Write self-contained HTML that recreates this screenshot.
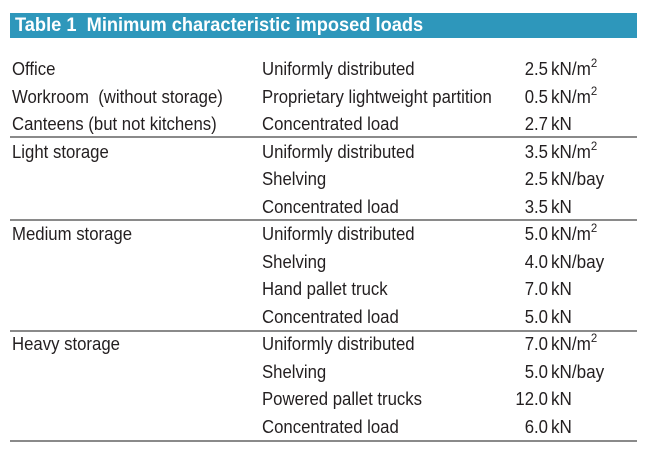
<!DOCTYPE html>
<html><head><meta charset="utf-8"><style>
body{margin:0;width:646px;height:451px;background:#fff;position:relative;overflow:hidden;font-family:"Liberation Sans",sans-serif;color:#231f20}
.hd{position:absolute;left:10px;top:13px;width:627px;height:25px;background:#2e97bb}
.hd span{position:absolute;left:5px;top:2px;color:#fff;font-weight:bold;font-size:19px;transform:scaleX(0.96);transform-origin:0 0;white-space:nowrap}
.t{position:absolute;font-size:18px;transform:scaleX(0.93);transform-origin:0 0;white-space:nowrap;line-height:20px}
.n{position:absolute;font-size:18px;white-space:nowrap;line-height:20px;transform:scaleX(0.93);transform-origin:100% 0;text-align:right;width:60px}
.u{position:absolute;font-size:18px;white-space:nowrap;line-height:20px;transform:scaleX(0.95);transform-origin:0 0}
sup{font-size:12px;vertical-align:8px;line-height:0}
.l{position:absolute;left:10px;width:627px;height:2px;background:#8a8a8a}
</style></head><body>
<div class="hd"><span>Table 1&nbsp; Minimum characteristic imposed loads</span></div>
<div class="l" style="top:136px"></div>
<div class="l" style="top:219px"></div>
<div class="l" style="top:330px"></div>
<div class="l" style="top:440px"></div>
<div id="rows"></div>
<script>
var rows=[
["Office","Uniformly distributed","2.5","kN/m<sup>2</sup>"],
["Workroom&nbsp; (without storage)","Proprietary lightweight partition","0.5","kN/m<sup>2</sup>"],
["Canteens (but not kitchens)","Concentrated load","2.7","kN"],
["Light storage","Uniformly distributed","3.5","kN/m<sup>2</sup>"],
["","Shelving","2.5","kN/bay"],
["","Concentrated load","3.5","kN"],
["Medium storage","Uniformly distributed","5.0","kN/m<sup>2</sup>"],
["","Shelving","4.0","kN/bay"],
["","Hand pallet truck","7.0","kN"],
["","Concentrated load","5.0","kN"],
["Heavy storage","Uniformly distributed","7.0","kN/m<sup>2</sup>"],
["","Shelving","5.0","kN/bay"],
["","Powered pallet trucks","12.0","kN"],
["","Concentrated load","6.0","kN"]];
var h="";
rows.forEach(function(r,i){var y=59+i*27.5;
h+='<div class="t" style="left:12px;top:'+y+'px">'+r[0]+'</div>';
h+='<div class="t" style="left:262px;top:'+y+'px">'+r[1]+'</div>';
h+='<div class="n" style="left:488px;top:'+y+'px">'+r[2]+'</div>';
h+='<div class="u" style="left:551px;top:'+y+'px">'+r[3]+'</div>';});
document.getElementById("rows").innerHTML=h;
</script>
</body></html>
